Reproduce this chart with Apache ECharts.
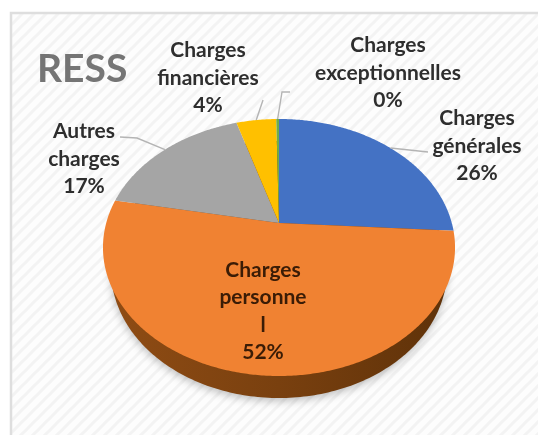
<!DOCTYPE html>
<html><head><meta charset="utf-8">
<style>html,body{margin:0;padding:0;background:#fff}#c{width:538px;height:435px;filter:blur(0.6px)}</style>
<script src="https://cdn.jsdelivr.net/npm/echarts@6/dist/echarts.min.js"></script>
</head><body><div id="c"></div>
<script>
const titleText = 'RESS';
const categories = ['Charges générales','Charges personnel','Autres charges','Charges financières','Charges exceptionnelles'];
const values = [26.0, 52.0, 17.3, 4.4, 0.3];
const percentLabels = ['26%','52%','17%','4%','0%'];
const labelLines = [
  ['Charges','générales'],
  ['Charges','personne','l'],
  ['Autres','charges'],
  ['Charges','financières'],
  ['Charges','exceptionnelles']
];
const colors = ['#4472c4','#f08232','#a5a5a5','#ffc000','#70ad47'];

// Layout of the tilted disc (perspective projection of a circle)
const cx = 279, apexY = 223, kx = 172.8, pa = -81.3, pc = 0.1907;
const wallDrop = 22, wallK = 165;
const labelPos = [[477,146],[263,311],[84,159],[208,78],[388,73]];
const leaderVia = [[[428,152]],null,[[137,138],[120,137]],[[263,100]],[[282,92],[290,92]]];

const total = values.reduce((a,b)=>a+b,0);
function project(theta, k, drop){
  const u = Math.sin(theta), v = Math.cos(theta), d = 1 + pc*v;
  return [cx + k*u/d, (pa*v + apexY)/d + (drop||0)];
}
function sector(start, end){
  const pts = [[cx, apexY]];
  const n = Math.max(2, Math.ceil((end-start)/0.01));
  for(let i=0;i<=n;i++) pts.push(project(start+(end-start)*i/n, kx));
  return pts;
}
function ellipsePts(k, drop){
  const pts=[]; for(let i=0;i<360;i++) pts.push(project(i*Math.PI/180,k,drop)); return pts;
}
function renderItem(params, api){
  const i = params.dataIndex;
  let before = 0; for(let j=0;j<i;j++) before += values[j];
  const start = before/total*2*Math.PI, end = start + api.value(0)/total*2*Math.PI;
  const kids = [];
  if(i===1){
    kids.push({type:'polygon',z2:0,shape:{points:ellipsePts(wallK,wallDrop)},
      style:{fill:new echarts.graphic.LinearGradient(0,0,1,0,[
        {offset:0,color:'#8f4c14'},{offset:0.5,color:'#79400f'},{offset:1,color:'#5f3209'}]),
        shadowBlur:8,shadowColor:'rgba(0,0,0,0.25)',shadowOffsetY:3}});
  }
  kids.push({type:'polygon',z2:1,shape:{points:sector(start,end)},style:{fill:colors[i]}});
  if(leaderVia[i]){
    const mid = project((start+end)/2, kx);
    kids.push({type:'polyline',z2:2,shape:{points:[mid].concat(leaderVia[i])},
      style:{stroke:'#b4b4b4',lineWidth:1.4,fill:null}});
  }
  kids.push({type:'text',z2:3,style:{
    text:labelLines[i].concat(percentLabels[i]).join('\n'),
    x:labelPos[i][0],y:labelPos[i][1],align:'center',verticalAlign:'middle',
    fontFamily:'Lato',fontWeight:'bold',fontSize:21,lineHeight:27.5,
    fill:i===1?'#3a1c06':'#2e2e2e'}});
  return {type:'group',children:kids};
}
// faint diagonal hatching of the panel
const hatch = document.createElement('canvas');
hatch.width = hatch.height = 12;
const hc = hatch.getContext('2d');
hc.fillStyle = '#fdfdfd'; hc.fillRect(0,0,12,12);
hc.strokeStyle = '#f3f3f3'; hc.lineWidth = 3;
[[-12,12,12,-12],[0,12,12,0],[0,24,24,0]].forEach(l=>{hc.beginPath();hc.moveTo(l[0],l[1]);hc.lineTo(l[2],l[3]);hc.stroke();});

const chart = echarts.init(document.getElementById('c'),null,{renderer:'canvas'});
chart.setOption({
  animation:false,
  backgroundColor:'#ffffff',
  title:{text:titleText,left:32,top:45,textStyle:{fontFamily:'Lato',fontWeight:'bold',fontSize:39,color:'#757575'}},
  graphic:[{type:'rect',z:-10,shape:{x:11,y:13,width:540,height:440},
    style:{fill:{image:hatch,repeat:'repeat'},stroke:'#dedede',lineWidth:2.5}}],
  series:[{type:'custom',coordinateSystem:'none',silent:true,renderItem,
    data:categories.map((name,i)=>({name,value:[values[i]]}))}]
});
</script></body></html>
